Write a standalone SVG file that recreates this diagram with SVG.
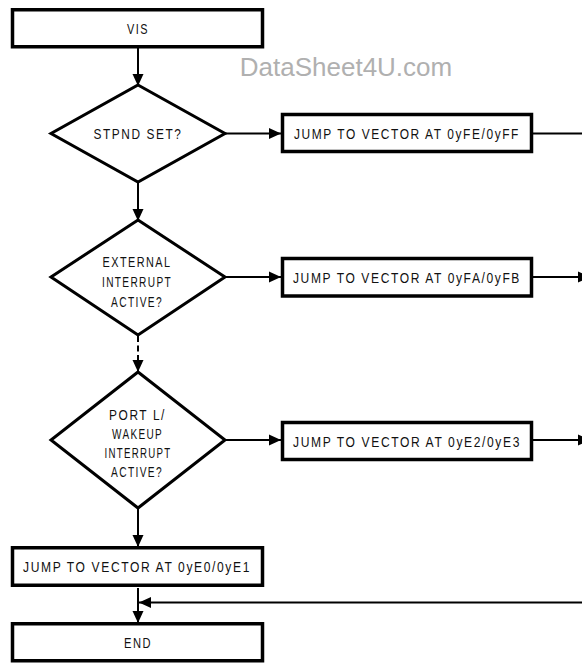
<svg xmlns="http://www.w3.org/2000/svg" width="582" height="663" viewBox="0 0 582 663">
<style>
.box{fill:#fff;stroke:#000;stroke-width:3.5}
.dia{fill:#fff;stroke:#000;stroke-width:3;stroke-linejoin:miter}
.lbl{font-family:"Liberation Sans",Arial,sans-serif;font-size:15px;fill:#111;text-anchor:middle;letter-spacing:2px}
.con{fill:none;stroke:#000;stroke-width:2}
.wm{font-family:"Liberation Sans",Arial,sans-serif;font-size:26px;fill:#b0b0b0;text-anchor:middle}
</style>
<defs>
<marker id="arr" viewBox="0 0 12 12" refX="12" refY="6" markerWidth="12" markerHeight="12" markerUnits="userSpaceOnUse" orient="auto">
<path d="M0,0.5 L12,6 L0,11.5 Z" fill="#000"/>
</marker>
</defs>
<rect width="582" height="663" fill="#fff"/>
<text class="wm" x="346" y="76">DataSheet4U.com</text>
<g id="connectors">
<line class="con" x1="138" y1="48" x2="138" y2="86" marker-end="url(#arr)"/>
<line class="con" x1="138" y1="182" x2="138" y2="221" marker-end="url(#arr)"/>
<line class="con" x1="138" y1="336" x2="138" y2="360" stroke-dasharray="6 3.5"/>
<line class="con" x1="138" y1="360" x2="138" y2="372" marker-end="url(#arr)"/>
<line class="con" x1="138" y1="508" x2="138" y2="547" marker-end="url(#arr)"/>
<line class="con" x1="138" y1="588" x2="138" y2="623" marker-end="url(#arr)"/>
<line class="con" x1="225" y1="133.5" x2="281" y2="133.5" marker-end="url(#arr)"/>
<line class="con" x1="225" y1="277" x2="281" y2="277" marker-end="url(#arr)"/>
<line class="con" x1="225" y1="440" x2="281" y2="440" marker-end="url(#arr)"/>
<line class="con" x1="533" y1="133.5" x2="582" y2="133.5"/>
<line class="con" x1="533" y1="277" x2="590" y2="277" marker-end="url(#arr)"/>
<line class="con" x1="533" y1="440" x2="590" y2="440" marker-end="url(#arr)"/>
<line class="con" x1="582" y1="602.5" x2="139" y2="602.5" marker-end="url(#arr)"/>
</g>
<g id="vis">
<rect class="box" x="12.5" y="9.75" width="250" height="37"/>
<text class="lbl" x="138" y="33.5" textLength="22" lengthAdjust="spacingAndGlyphs">VIS</text>
</g>
<g id="stpnd">
<polygon class="dia" points="138,85 225,133.5 138,182 51,133.5"/>
<text class="lbl" x="138" y="139" textLength="89" lengthAdjust="spacingAndGlyphs">STPND SET?</text>
</g>
<g id="jump-fe">
<rect class="box" x="282.5" y="114.5" width="249" height="37"/>
<text class="lbl" x="407" y="139" textLength="226" lengthAdjust="spacingAndGlyphs">JUMP TO VECTOR AT 0yFE/0yFF</text>
</g>
<g id="ext">
<polygon class="dia" points="138,220 225,277 138,335 51,277"/>
<text class="lbl" x="137" y="267" textLength="69" lengthAdjust="spacingAndGlyphs">EXTERNAL</text>
<text class="lbl" x="137" y="287" textLength="70" lengthAdjust="spacingAndGlyphs">INTERRUPT</text>
<text class="lbl" x="137" y="307" textLength="52" lengthAdjust="spacingAndGlyphs">ACTIVE?</text>
</g>
<g id="jump-fa">
<rect class="box" x="282.5" y="258.5" width="249" height="37.5"/>
<text class="lbl" x="407" y="283" textLength="228" lengthAdjust="spacingAndGlyphs">JUMP TO VECTOR AT 0yFA/0yFB</text>
</g>
<g id="portl">
<polygon class="dia" points="138,372 225,440 138,508 51,440"/>
<text class="lbl" x="137.5" y="420" textLength="57" lengthAdjust="spacingAndGlyphs">PORT L/</text>
<text class="lbl" x="137.5" y="438.5" textLength="51" lengthAdjust="spacingAndGlyphs">WAKEUP</text>
<text class="lbl" x="138" y="457.5" textLength="67" lengthAdjust="spacingAndGlyphs">INTERRUPT</text>
<text class="lbl" x="137" y="476.5" textLength="52" lengthAdjust="spacingAndGlyphs">ACTIVE?</text>
</g>
<g id="jump-e2">
<rect class="box" x="282.5" y="422.5" width="249" height="37"/>
<text class="lbl" x="407" y="447" textLength="228" lengthAdjust="spacingAndGlyphs">JUMP TO VECTOR AT 0yE2/0yE3</text>
</g>
<g id="jump-e0">
<rect class="box" x="12.5" y="547.75" width="250" height="37.5"/>
<text class="lbl" x="137" y="572" textLength="228" lengthAdjust="spacingAndGlyphs">JUMP TO VECTOR AT 0yE0/0yE1</text>
</g>
<g id="end">
<rect class="box" x="12.5" y="623.75" width="250" height="37"/>
<text class="lbl" x="138" y="648" textLength="28" lengthAdjust="spacingAndGlyphs">END</text>
</g>
</svg>
